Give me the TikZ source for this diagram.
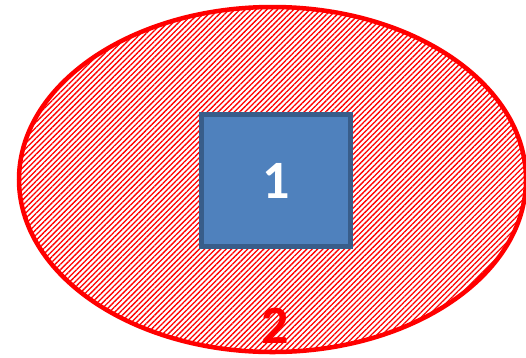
\documentclass[tikz,border=0pt]{standalone}
\usepackage{fontspec}
\setmainfont{Carlito}
\usetikzlibrary{shapes.geometric,patterns.meta}
\definecolor{hatch}{HTML}{FF0000}
\definecolor{boxfill}{HTML}{4F81BD}
\definecolor{boxline}{HTML}{385D8A}
\tikzset{
  zone/.style={ellipse,draw=hatch,line width=4.5pt,inner sep=0pt,
    pattern={Lines[angle=45,distance=3.8pt,line width=1.3pt]},pattern color=hatch},
  core/.style={rectangle,draw=boxline,fill=boxfill,line width=4.5pt,inner sep=0pt},
  numlab/.style={font=\fontsize{54}{60}\selectfont\bfseries,inner sep=0pt}
}
\begin{document}
\begin{tikzpicture}[x=1pt,y=-1pt]
  \useasboundingbox (0,0) rectangle (526,357);
  \node[zone,minimum width=507pt,minimum height=345pt] (outer) at (272.5,179.5) {};
  \node[core,minimum width=149pt,minimum height=132pt] (inner) at (276,180.5) {};
  \node[numlab,text=white] (one) at (inner.center) {1};
  \node[numlab,text=hatch] (two) at (275,326) {2};
\end{tikzpicture}
\end{document}
